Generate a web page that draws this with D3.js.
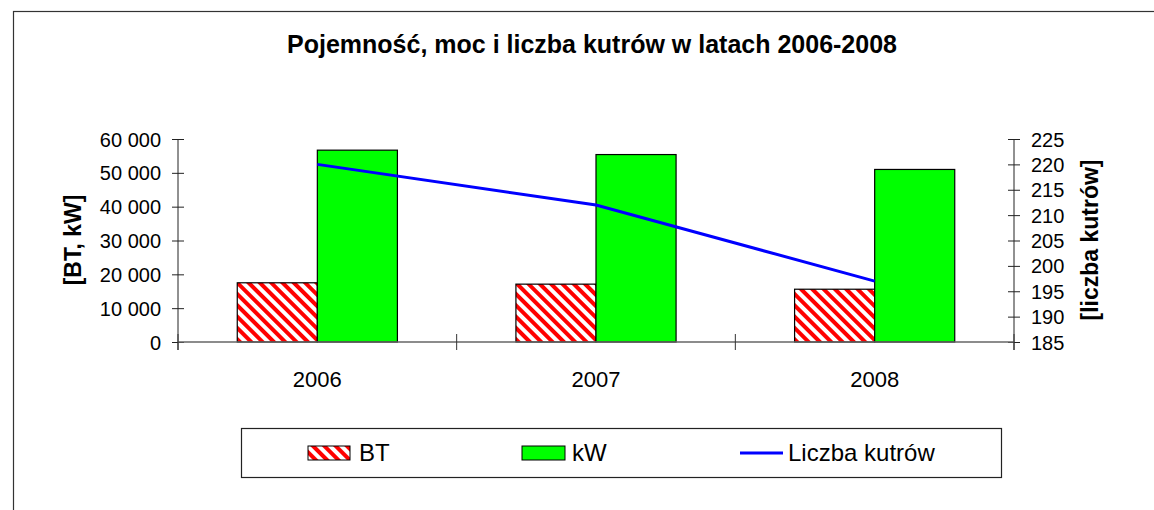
<!DOCTYPE html>
<html>
<head>
    <title>kutry 2006-2008</title>
    <script src="https://d3js.org/d3.v7.min.js"></script>
    <style>
        body { margin: 0; background: #fff; }
        text { font-family: "Liberation Sans", Arial, sans-serif; fill: #000; }
        .title { font-size: 25px; font-weight: bold; }
        .tick-lbl { font-size: 20px; }
        .cat-lbl { font-size: 22px; }
        .ax-title { font-size: 23px; font-weight: bold; }
        .leg-lbl { font-size: 24px; }
    </style>
</head>
<body>
    <svg id="chart" width="1154" height="510"></svg>

    <script>
        // data
        var years = ["2006", "2007", "2008"];
        var btValues = [17500, 17100, 15600];
        var kwValues = [56700, 55400, 51000];
        var boatCounts = [220, 212, 197];
        var leftTicks = [0, 10000, 20000, 30000, 40000, 50000, 60000];
        var rightTicks = [185, 190, 195, 200, 205, 210, 215, 220, 225];
        var seriesNames = ["BT", "kW", "Liczba kutrów"];

        var svg = d3.select("#chart");

        // outer frame (runs off the right and bottom edges)
        svg.append("rect")
            .attr("x", 13.5).attr("y", 11.5)
            .attr("width", 1300).attr("height", 700)
            .attr("fill", "none").attr("stroke", "#333").attr("stroke-width", 1.2);

        // stripes for BT
        var defs = svg.append("defs");
        var pat = defs.append("pattern")
            .attr("id", "stripes")
            .attr("patternUnits", "userSpaceOnUse")
            .attr("width", 8).attr("height", 8)
            .attr("patternTransform", "rotate(-45)");
        pat.append("rect").attr("width", 8).attr("height", 8).attr("fill", "#fff");
        pat.append("rect").attr("width", 4).attr("height", 8).attr("fill", "#ff0000");

        var plotL = 178, plotR = 1014, plotT = 139, plotB = 342;

        var x = d3.scaleBand().domain(years).range([plotL, plotR]);
        var xIn = d3.scaleBand().domain(["BT", "kW"]).range([0, x.bandwidth()]).paddingOuter(0.74);
        var y = d3.scaleLinear().domain([0, 60000]).range([plotB, plotT]);
        var y2 = d3.scaleLinear().domain([185, 225]).range([plotB, plotT]);

        var fmt = function(v) { return d3.format(",")(v).replace(/,/g, " "); };

        // title
        svg.append("text").attr("class", "title")
            .attr("x", 592).attr("y", 53)
            .attr("text-anchor", "middle")
            .text("Pojemność, moc i liczba kutrów w latach 2006-2008");

        // bars
        var groups = svg.selectAll(".grp").data(years).enter().append("g")
            .attr("class", "grp")
            .attr("transform", function(d) { return "translate(" + x(d) + ",0)"; });

        groups.append("rect")
            .attr("x", xIn("BT"))
            .attr("y", function(d, i) { return y(btValues[i]); })
            .attr("width", xIn.bandwidth())
            .attr("height", function(d, i) { return plotB - y(btValues[i]); })
            .attr("fill", "url(#stripes)")
            .attr("stroke", "#000").attr("stroke-width", 1.2);

        groups.append("rect")
            .attr("x", xIn("kW"))
            .attr("y", function(d, i) { return y(kwValues[i]); })
            .attr("width", xIn.bandwidth())
            .attr("height", function(d, i) { return plotB - y(kwValues[i]); })
            .attr("fill", "#00ff00")
            .attr("stroke", "#000").attr("stroke-width", 1.2);

        // axes
        var leftAxis = d3.axisLeft(y).tickValues(leftTicks).tickSize(0).tickFormat(fmt);
        var gl = svg.append("g").attr("transform", "translate(" + plotL + ",0)").call(leftAxis);
        gl.select(".domain").remove();
        gl.selectAll("text").attr("class", "tick-lbl").attr("x", -17).attr("dy", "0.35em");
        gl.selectAll(".tick line").attr("x1", -6).attr("x2", 6).attr("stroke", "#222");

        var rightAxis = d3.axisRight(y2).tickValues(rightTicks).tickSize(0);
        var gr = svg.append("g").attr("transform", "translate(" + plotR + ",0)").call(rightAxis);
        gr.select(".domain").remove();
        gr.selectAll("text").attr("class", "tick-lbl").attr("x", 17).attr("dy", "0.35em");
        gr.selectAll(".tick line").attr("x1", -6).attr("x2", 6).attr("stroke", "#222");

        // vertical axis lines
        svg.append("line").attr("x1", plotL).attr("x2", plotL).attr("y1", plotT).attr("y2", plotB + 8)
            .attr("stroke", "#222");
        svg.append("line").attr("x1", plotR).attr("x2", plotR).attr("y1", plotT).attr("y2", plotB + 8)
            .attr("stroke", "#222");

        // category axis
        svg.append("line").attr("x1", plotL).attr("x2", plotR).attr("y1", plotB).attr("y2", plotB)
            .attr("stroke", "#666").attr("stroke-width", 1.3);
        var edges = years.map(function(d) { return x(d); }).concat([plotR]);
        svg.selectAll(".xtick").data(edges).enter().append("line")
            .attr("class", "xtick")
            .attr("x1", function(d) { return d; }).attr("x2", function(d) { return d; })
            .attr("y1", plotB - 8).attr("y2", plotB + 8)
            .attr("stroke", "#333");
        svg.selectAll(".cat-lbl").data(years).enter().append("text")
            .attr("class", "cat-lbl")
            .attr("x", function(d) { return x(d) + x.bandwidth() / 2; })
            .attr("y", 387)
            .attr("text-anchor", "middle")
            .text(function(d) { return d; });

        // line for number of boats
        var line = d3.line()
            .x(function(d, i) { return x(years[i]) + x.bandwidth() / 2; })
            .y(function(d) { return y2(d); });
        svg.append("path").datum(boatCounts)
            .attr("d", line)
            .attr("fill", "none").attr("stroke", "#0000ff").attr("stroke-width", 3);

        // axis titles
        svg.append("text").attr("class", "ax-title")
            .attr("transform", "translate(73,240) rotate(-90)")
            .attr("text-anchor", "middle").attr("dy", "0.35em")
            .text("[BT, kW]");
        svg.append("text").attr("class", "ax-title")
            .attr("transform", "translate(1090,240) rotate(-90)")
            .attr("text-anchor", "middle").attr("dy", "0.35em")
            .text("[liczba kutrów]");

        // legend
        var leg = svg.append("g");
        leg.append("rect").attr("x", 241.5).attr("y", 428.5).attr("width", 760).attr("height", 49)
            .attr("fill", "#fff").attr("stroke", "#222").attr("stroke-width", 1.2);

        var legX = [308, 522, 740];
        leg.append("rect").attr("x", legX[0]).attr("y", 446).attr("width", 42).attr("height", 14)
            .attr("fill", "url(#stripes)").attr("stroke", "#000");
        leg.append("rect").attr("x", legX[1]).attr("y", 446).attr("width", 43).attr("height", 14)
            .attr("fill", "#00ff00").attr("stroke", "#000");
        leg.append("line").attr("x1", legX[2]).attr("x2", legX[2] + 43).attr("y1", 453).attr("y2", 453)
            .attr("stroke", "#0000ff").attr("stroke-width", 3);

        var legTextX = [359, 572, 788];
        leg.selectAll(".leg-lbl").data(seriesNames).enter().append("text")
            .attr("class", "leg-lbl")
            .attr("x", function(d, i) { return legTextX[i]; })
            .attr("y", 461)
            .text(function(d) { return d; });
    </script>
</body>
</html>
